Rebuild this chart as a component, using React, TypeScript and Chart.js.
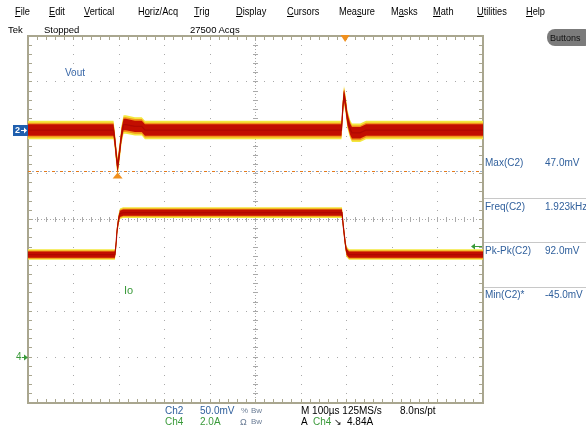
import React, { useEffect, useRef } from "react";
import { Chart, registerables } from "chart.js";

Chart.register(...registerables);

// Ch2 : Vout, in mV, versus time in µs (100 µs/div, 0 at left graticule edge)
const voutTimeUs = [0, 188, 191, 194.5, 197, 201, 205.5, 210, 215, 235, 250, 257, 689, 692, 694.5, 698, 702, 708, 712, 730, 743, 1000];
const voutMv = [0, 0, -12, -30, -40, -25, -5, 6, 6, 4, 4, 0, 0, 25, 38, 28, 12, 1, -3, -3, 0, 0];
// Ch4 : Io, in A
const ioTimeUs = [0, 191, 193.4, 195.6, 199, 202, 209, 690, 693, 697, 700, 705.5, 1000];
const ioAmps = [4.47, 4.47, 4.9, 5.5, 6.0, 6.25, 6.3, 6.3, 5.7, 5.0, 4.6, 4.47, 4.47];

// scope settings
const ch2MvPerDiv = 50;
const ch4AmpsPerDiv = 2;
const ch2PositionDiv = 1.95;
const ch4PositionDiv = -3;
const timeSpanUs = 1000;
const triggerLevelA = 4.84;
const triggerTimeUs = 697;
const minCursorMv = -45;
const minMarkerTimeUs = 197;

// texts
const menuItems = ["File", "Edit", "Vertical", "Horiz/Acq", "Trig", "Display", "Cursors", "Measure", "Masks", "Math", "Utilities", "Help"];
const menuUnderline = [0, 0, 0, 1, 0, 0, 0, 3, 1, 0, 0, 0];
const menuX = [15, 49, 84, 138, 194, 236, 287, 339, 391, 433, 477, 526];
const measureNames = ["Max(C2)", "Freq(C2)", "Pk-Pk(C2)", "Min(C2)*"];
const measureValues = ["47.0mV", "1.923kHz", "92.0mV", "-45.0mV"];

const FONT = '"Liberation Sans", Arial, sans-serif';
const BLUE = "#2f5f9c";
const GREEN = "#3a9a3a";

const toDiv2 = (mv: number) => ch2PositionDiv + mv / ch2MvPerDiv;
const toDiv4 = (a: number) => ch4PositionDiv + a / ch4AmpsPerDiv;

const layers = [
  { color: "#f3e83e", v: 0.2, i: 0.115, order: 6 },
  { color: "#f39419", v: 0.16, i: 0.09, order: 5 },
  { color: "#c20e00", v: 0.125, i: 0.068, order: 4 },
];

function buildDatasets() {
  const ds: any[] = [];
  const traces = [
    { t: voutTimeUs, v: voutMv.map(toDiv2), key: "v" },
    { t: ioTimeUs, v: ioAmps.map(toDiv4), key: "i" },
  ];
  for (const tr of traces) {
    for (const L of layers) {
      const half = (L as any)[tr.key];
      const upIdx = ds.length;
      ds.push({
        data: tr.t.map((t, k) => ({ x: t, y: tr.v[k] + half })),
        borderColor: "rgba(0,0,0,0)",
        borderWidth: 0,
        pointRadius: 0,
        fill: false,
        order: L.order,
      });
      ds.push({
        data: tr.t.map((t, k) => ({ x: t, y: tr.v[k] - half })),
        borderColor: "rgba(0,0,0,0)",
        borderWidth: 0,
        pointRadius: 0,
        fill: upIdx,
        backgroundColor: L.color,
        order: L.order,
      });
    }
    ds.push({
      data: tr.t.map((t, k) => ({ x: t, y: tr.v[k] })),
      borderColor: "#b00800",
      borderWidth: 1.2,
      pointRadius: 0,
      fill: false,
      order: 1,
    });
  }
  return ds;
}

const graticule = {
  id: "graticule",
  beforeDatasetsDraw(chart: any) {
    const { ctx, chartArea: a, scales } = chart;
    const xs = scales.x, ys = scales.y;
    const step = timeSpanUs / 10;
    ctx.save();
    ctx.fillStyle = "#a9a9a9";
    for (let i = 1; i < 10; i++) {
      if (i === 5) continue;
      const px = Math.floor(xs.getPixelForValue(i * step));
      for (let k = 1; k < 40; k++) {
        const py = Math.floor(ys.getPixelForValue(-4 + k * 0.2));
        ctx.fillRect(px, py, 1, 1);
      }
    }
    for (let j = -3; j <= 3; j++) {
      if (j === 0) continue;
      const py = Math.floor(ys.getPixelForValue(j));
      for (let k = 1; k < 50; k++) {
        const px = Math.floor(xs.getPixelForValue(k * step / 5));
        ctx.fillRect(px, py, 1, 1);
      }
    }
    const cy = Math.floor(ys.getPixelForValue(0));
    const cx = Math.floor(xs.getPixelForValue(5 * step));
    for (let px = Math.ceil(a.left) + 1; px < a.right; px += 3) ctx.fillRect(px, cy, 1, 1);
    for (let py = Math.ceil(a.top) + 1; py < a.bottom; py += 3) ctx.fillRect(cx, py, 1, 1);
    for (let k = 1; k < 50; k++) {
      const px = Math.floor(xs.getPixelForValue(k * step / 5));
      ctx.fillRect(px, cy - 2, 1, 5);
    }
    for (let k = 1; k < 40; k++) {
      const py = Math.floor(ys.getPixelForValue(-4 + k * 0.2));
      ctx.fillRect(cx - 2, py, 5, 1);
    }
    ctx.fillStyle = "#a9a68f";
    for (let k = 1; k < 50; k++) {
      const px = Math.floor(xs.getPixelForValue(k * step / 5));
      ctx.fillRect(px, a.top, 1, 4);
      ctx.fillRect(px, a.bottom - 4, 1, 4);
    }
    for (let k = 1; k < 40; k++) {
      const py = Math.floor(ys.getPixelForValue(-4 + k * 0.2));
      ctx.fillRect(a.left, py, 4, 1);
      ctx.fillRect(a.right - 4, py, 4, 1);
    }
    ctx.strokeStyle = "#a9a68f";
    ctx.lineWidth = 2;
    ctx.strokeRect(a.left, a.top, a.right - a.left, a.bottom - a.top);
    ctx.restore();
  },
};

function tri(ctx: any, pts: number[][], color: string) {
  ctx.fillStyle = color;
  ctx.beginPath();
  ctx.moveTo(pts[0][0], pts[0][1]);
  ctx.lineTo(pts[1][0], pts[1][1]);
  ctx.lineTo(pts[2][0], pts[2][1]);
  ctx.closePath();
  ctx.fill();
}

const markers = {
  id: "markers",
  afterDatasetsDraw(chart: any) {
    const { ctx, chartArea: a, scales } = chart;
    const xs = scales.x, ys = scales.y;
    ctx.save();
    const yMin = Math.round(ys.getPixelForValue(toDiv2(minCursorMv))) + 0.5;
    ctx.lineWidth = 1;
    ctx.strokeStyle = "#9fb3cc";
    ctx.setLineDash([2, 6]);
    ctx.lineDashOffset = -4;
    ctx.beginPath();
    ctx.moveTo(a.left, yMin);
    ctx.lineTo(a.right, yMin);
    ctx.stroke();
    ctx.strokeStyle = "#e47a1c";
    ctx.setLineDash([3, 5]);
    ctx.lineDashOffset = 0;
    ctx.beginPath();
    ctx.moveTo(a.left, yMin);
    ctx.lineTo(a.right, yMin);
    ctx.stroke();
    ctx.setLineDash([]);
    const xm = xs.getPixelForValue(minMarkerTimeUs);
    tri(ctx, [[xm - 5, yMin + 7], [xm + 5, yMin + 7], [xm, yMin + 1]], "#f0901e");
    const xt = xs.getPixelForValue(triggerTimeUs);
    tri(ctx, [[xt - 4.5, a.top - 1], [xt + 4.5, a.top - 1], [xt, a.top + 6]], "#f0901e");
    const yt = Math.round(ys.getPixelForValue(toDiv4(triggerLevelA))) + 0.5;
    ctx.strokeStyle = GREEN;
    ctx.lineWidth = 1;
    ctx.beginPath();
    ctx.moveTo(a.right - 9, yt);
    ctx.lineTo(a.right - 1, yt);
    ctx.stroke();
    tri(ctx, [[a.right - 12, yt], [a.right - 8, yt - 3], [a.right - 8, yt + 3]], GREEN);
    const y2 = ys.getPixelForValue(ch2PositionDiv);
    ctx.fillStyle = "#1f5fae";
    ctx.fillRect(13, Math.round(y2) - 5, 15, 11);
    ctx.fillStyle = "#ffffff";
    ctx.font = `bold 9px ${FONT}`;
    ctx.textBaseline = "middle";
    ctx.fillText("2", 15, Math.round(y2) + 0.5);
    ctx.fillRect(21, Math.round(y2), 4, 1);
    tri(ctx, [[24, Math.round(y2) - 2.5], [24, Math.round(y2) + 3.5], [27, Math.round(y2) + 0.5]], "#ffffff");
    const y4 = Math.round(ys.getPixelForValue(ch4PositionDiv)) + 0.5;
    ctx.fillStyle = GREEN;
    ctx.font = `10px ${FONT}`;
    ctx.fillText("4", 16, y4);
    ctx.fillRect(22, y4 - 0.5, 3, 1);
    tri(ctx, [[24, y4 - 3], [24, y4 + 3], [28, y4]], GREEN);
    ctx.font = `10px ${FONT}`;
    ctx.fillStyle = "#3a68a8";
    ctx.fillText("Vout", 65, 73);
    ctx.fillStyle = GREEN;
    ctx.font = `11px ${FONT}`;
    ctx.fillText("Io", 124, 291);
    ctx.restore();
  },
};

function Txt(props: any) {
  const { x, y, color = "#000", size = 10, sx = 1, children } = props;
  return (
    <div
      style={{
        position: "absolute",
        left: x,
        top: y - 7,
        height: 14,
        lineHeight: "14px",
        fontSize: size,
        color,
        whiteSpace: "nowrap",
        transform: sx !== 1 ? `scaleX(${sx})` : undefined,
        transformOrigin: "0 50%",
      }}
    >
      {children}
    </div>
  );
}

export default function App() {
  const ref = useRef<HTMLCanvasElement | null>(null);
  useEffect(() => {
    if (!ref.current) return;
    const chart = new Chart(ref.current, {
      type: "line",
      data: { datasets: buildDatasets() },
      options: {
        animation: false,
        responsive: false,
        maintainAspectRatio: false,
        events: [],
        layout: { padding: { left: 28, top: 36, right: 103, bottom: 24 } },
        scales: {
          x: { type: "linear", min: 0, max: timeSpanUs, display: false },
          y: { type: "linear", min: -4, max: 4, display: false },
        },
        plugins: { legend: { display: false }, tooltip: { enabled: false } },
        elements: { line: { tension: 0 }, point: { radius: 0 } },
      } as any,
      plugins: [graticule, markers],
    });
    return () => chart.destroy();
  }, []);

  const sep = [198, 242, 287];
  return (
    <div
      style={{
        position: "fixed",
        left: 0,
        top: 0,
        width: 586,
        height: 427,
        background: "#fff",
        overflow: "hidden",
        fontFamily: FONT,
      }}
    >
      <canvas ref={ref} width={586} height={427} style={{ position: "absolute", left: 0, top: 0, width: 586, height: 427 }} />
      {menuItems.map((m, i) => (
        <Txt key={m} x={menuX[i]} y={11} size={10.5} sx={0.88}>
          {m.slice(0, menuUnderline[i])}
          <u>{m[menuUnderline[i]]}</u>
          {m.slice(menuUnderline[i] + 1)}
        </Txt>
      ))}
      <Txt x={8} y={30} size={9.5}>Tek</Txt>
      <Txt x={44} y={30} size={9.5}>Stopped</Txt>
      <Txt x={190} y={30} size={9.5}>27500 Acqs</Txt>
      <div
        style={{
          position: "absolute",
          left: 547,
          top: 29,
          width: 46,
          height: 17,
          borderRadius: 8,
          background: "#7b7b7b",
        }}
      />
      <Txt x={550} y={37.5} size={9} color="#111">Buttons</Txt>
      {sep.map((s) => (
        <div key={s} style={{ position: "absolute", left: 484, top: s, width: 102, height: 1, background: "#c8c8c8" }} />
      ))}
      {measureNames.map((n, i) => (
        <React.Fragment key={n}>
          <Txt x={485} y={163 + i * 44} color={BLUE}>{n}</Txt>
          <Txt x={545} y={163 + i * 44} color={BLUE}>{measureValues[i]}</Txt>
        </React.Fragment>
      ))}
      <Txt x={165} y={411} color={BLUE}>Ch2</Txt>
      <Txt x={200} y={411} color={BLUE}>50.0mV</Txt>
      <Txt x={241} y={411} color="#6b7d96" size={8}>%</Txt>
      <Txt x={251} y={411} color="#6b7d96" size={8}>Bw</Txt>
      <Txt x={301} y={411}>M 100µs 125MS/s</Txt>
      <Txt x={400} y={411}>8.0ns/pt</Txt>
      <Txt x={165} y={422} color={GREEN}>Ch4</Txt>
      <Txt x={200} y={422} color={GREEN}>2.0A</Txt>
      <Txt x={240} y={422} color="#6b7d96" size={9}>Ω</Txt>
      <Txt x={251} y={422} color="#6b7d96" size={8}>Bw</Txt>
      <Txt x={301} y={422}>A</Txt>
      <Txt x={313} y={422} color={GREEN}>Ch4</Txt>
      <Txt x={334} y={422} size={9}>↘</Txt>
      <Txt x={347} y={422}>4.84A</Txt>
    </div>
  );
}
